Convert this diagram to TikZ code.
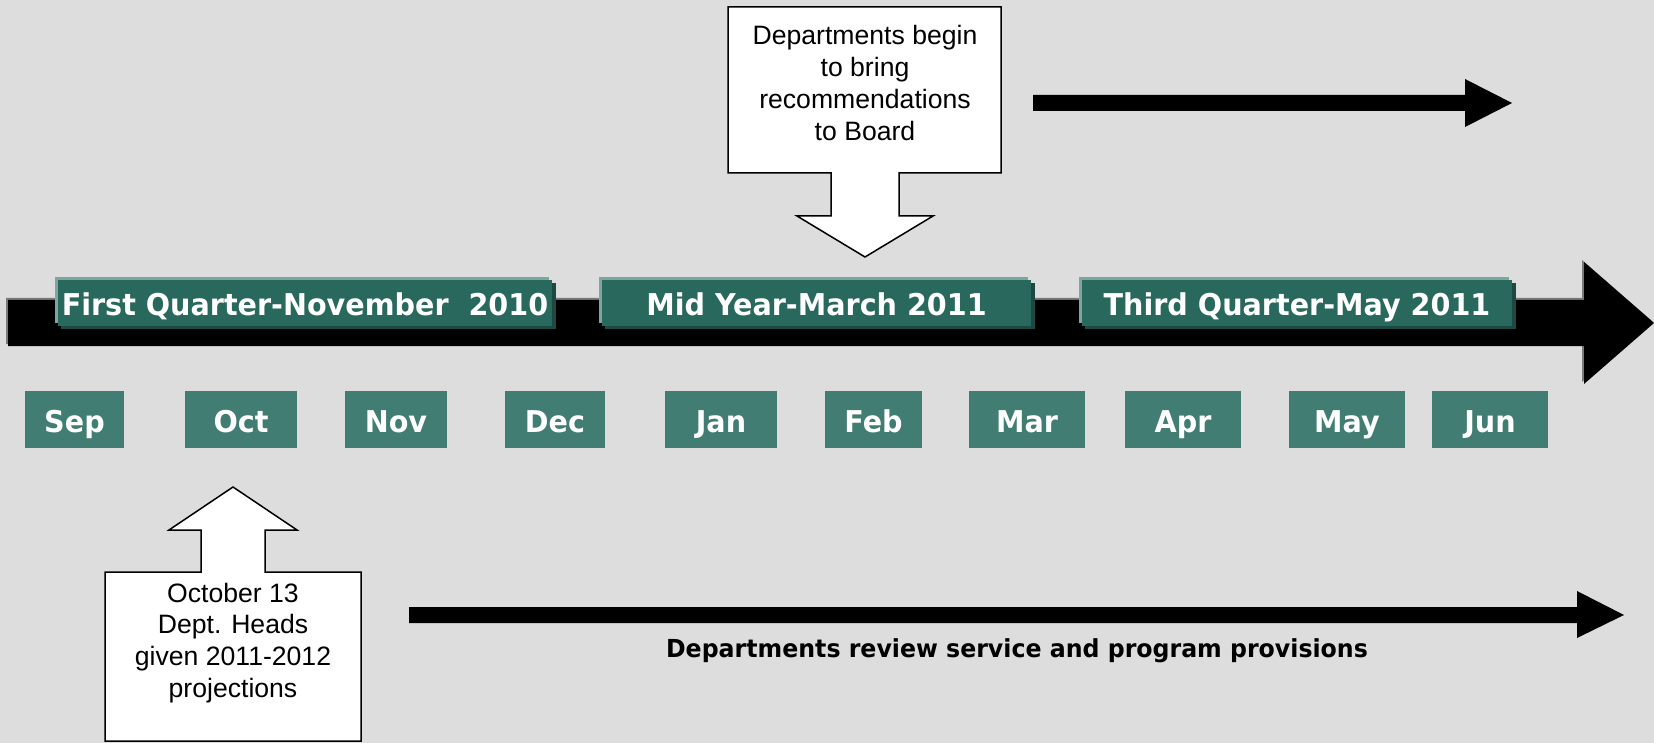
\documentclass[tikz,border=0pt]{standalone}
\usepackage{fontspec}
\setmainfont{Liberation Sans}
\newfontfamily\lblfont[FakeStretch=0.954]{DejaVu Sans}
\definecolor{bg}{HTML}{DDDDDD}
\definecolor{qfill}{HTML}{29685C}
\definecolor{qlight}{HTML}{7AA79E}
\definecolor{qdark}{HTML}{1C4A42}
\definecolor{mfill}{HTML}{417D72}
\definecolor{shadowgray}{HTML}{7A7A7A}
\tikzset{
  qtext/.style={anchor=base, text=white, font=\lblfont\bfseries\fontsize{15}{18}\selectfont, inner sep=0pt},
  mtext/.style={anchor=base, text=white, font=\lblfont\bfseries\fontsize{15}{18}\selectfont, inner sep=0pt},
  calltext/.style={align=center, font=\fontsize{13.3}{15.9}\selectfont, inner sep=0pt},
  callout/.style={fill=white, draw=black, line width=0.75pt, line join=miter},
  blackarrow/.style={fill=black},
  reviewtext/.style={anchor=base, font=\lblfont\bfseries\fontsize{12.4}{15}\selectfont, inner sep=0pt}
}
\begin{document}
\begin{tikzpicture}[x=0.5pt,y=-0.5pt]
\fill[bg] (0,0) rectangle (1654,743);
\useasboundingbox (0,0) rectangle (1654,743);

% main timeline arrow with grey bevel
\fill[shadowgray] (6,298) -- (1582,298) -- (1582,260) -- (1652,321) -- (1582,382) -- (1582,344) -- (6,344) -- cycle;
\fill[black] (8,300) -- (1584,300) -- (1584,262) -- (1654,323) -- (1584,384) -- (1584,346) -- (8,346) -- cycle;

% quarter labels
\foreach \l/\r/\nm/\txt in {58/552/q1/{First Quarter-November\ \ 2010}, 602/1031/q2/{Mid Year-March 2011}, 1082/1512/q3/{Third Quarter-May 2011}} {
  \fill[qlight] (\l-3,277) rectangle (\r-3,323);
  \fill[qdark] (\l+3,283) rectangle (\r+4,329);
  \fill[qfill] (\l,280) rectangle (\r,326);
  \node[qtext] (\nm) at ({(\l+\r)/2},315) {\txt};
}

% month boxes
\foreach \a/\b/\m in {25/124/Sep, 185/297/Oct, 345/447/Nov, 505/605/Dec, 665/777/Jan, 825/922/Feb, 969/1085/Mar, 1125/1241/Apr, 1289/1405/May, 1432/1548/Jun} {
  \fill[mfill] (\a,391) rectangle (\b,448);
  \node[mtext] (\m) at ({(\a+\b)/2},432) {\m};
}

% top callout
\path[callout] (728,7) -- (1001,7) -- (1001,173) -- (899,173) -- (899,216) -- (933,216) -- (865,257) -- (797,216) -- (831,216) -- (831,173) -- (728,173) -- cycle;
\node[calltext] (topnote) at (865,83) {Departments begin\\to bring\\recommendations\\to Board};

% top right arrow
\fill[blackarrow] (1033,95) -- (1465,95) -- (1465,79) -- (1512,103) -- (1465,127) -- (1465,111) -- (1033,111) -- cycle;

% bottom callout
\path[callout] (105,741) -- (105,572) -- (201,572) -- (201,530) -- (169,530) -- (233,487) -- (297,530) -- (265,530) -- (265,572) -- (361,572) -- (361,741) -- cycle;
\node[calltext] (botnote) at (233,643) {October 13\\Dept. Heads\\given 2011-2012\\projections};

% bottom arrow
\fill[blackarrow] (409,607) -- (1577,607) -- (1577,591) -- (1624,615) -- (1577,638) -- (1577,623) -- (409,623) -- cycle;
\node[reviewtext] (review) at (1017,657) {Departments review service and program provisions};
\end{tikzpicture}
\end{document}
